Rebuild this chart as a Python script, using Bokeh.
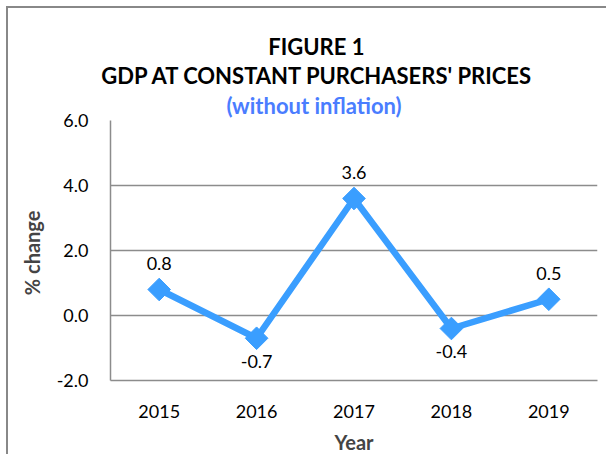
from bokeh.plotting import figure
from bokeh.models import Title, ColumnDataSource, SingleIntervalTicker, CustomJSTickFormatter
from bokeh.core.properties import value
from bokeh.embed import file_html
from bokeh.resources import INLINE

years = ["2015", "2016", "2017", "2018", "2019"]
gdp_change = [0.8, -0.7, 3.6, -0.4, 0.5]
title_line1 = "FIGURE 1"
title_line2 = "GDP AT CONSTANT PURCHASERS' PRICES"
title_line3 = "(without inflation)"

FONT = "Lato"
LINE_COLOR = "#3A9EFF"
GRID = "#8C8C8C"

labels = [f"{v:.1f}" for v in gdp_change]
offsets = [-26 if v >= 0 else 23 for v in gdp_change]
src = ColumnDataSource(dict(x=years, y=gdp_change, lab=labels, off=offsets))

W, H = 600, 448
MB_LEFT = 102
p = figure(width=W, height=H, x_range=years, y_range=(-2, 6),
           output_backend="svg", toolbar_location=None,
           min_border_left=MB_LEFT, min_border_right=11, min_border_bottom=76,
           min_border_top=10)
p.title = None

# Titles are centred over the whole chart (canvas x ~307), not over the plot area.
TITLE_SIZE = 22
CENTER_X = 307
est_width = {title_line1: 4.29, title_line2: 19.48, title_line3: 8.10}  # in em, Lato Bold
for txt, col, so in [(title_line3, "#4A7DFF", 3), (title_line2, "black", 0),
                     (title_line1, "black", 0)]:
    left = CENTER_X - est_width[txt] * TITLE_SIZE / 2
    t = Title(text=txt, align="left", offset=left - MB_LEFT, text_color=col,
              text_font=FONT, text_font_size=f"{TITLE_SIZE}px",
              text_font_style="bold", standoff=so)
    p.add_layout(t, "above")
# blank spacer above the title block
p.add_layout(Title(text=" ", text_font=FONT, text_font_size="14px", standoff=3), "above")

p.line("x", "y", source=src, line_color=LINE_COLOR, line_width=6.5)
p.scatter("x", "y", source=src, marker="square", angle=0.785398, size=16,
          fill_color=LINE_COLOR, line_color=LINE_COLOR)
p.text("x", "y", text="lab", source=src, y_offset="off", text_align="center",
       text_baseline="middle", text_font=value(FONT), text_font_size="18px",
       text_color="black")

p.yaxis.ticker = SingleIntervalTicker(interval=2)
p.yaxis.formatter = CustomJSTickFormatter(code="return tick.toFixed(1);")
p.yaxis.axis_label = "%  change"
p.xaxis.axis_label = "Year"
for ax in (p.xaxis, p.yaxis):
    ax.axis_label_text_font = FONT
    ax.axis_label_text_font_style = "bold"
    ax.axis_label_text_font_size = "20px"
    ax.major_label_text_font = FONT
    ax.major_label_text_font_size = "18px"
    ax.major_label_text_color = "black"
    ax.major_tick_line_color = None
    ax.minor_tick_line_color = None
    ax.axis_line_color = GRID
    ax.axis_line_width = 1.5
p.xaxis.major_label_standoff = 18
p.yaxis.major_label_standoff = 16
p.xaxis.axis_label_standoff = 9
p.yaxis.axis_label_standoff = 10

p.xgrid.grid_line_color = None
p.ygrid.grid_line_color = GRID
p.ygrid.grid_line_width = 1.5
p.outline_line_color = None

p.styles = {"margin-left": "6px", "margin-top": "6px",
            "border-left": "2px solid #888888", "border-top": "2px solid #888888"}

open("out.html", "w").write(file_html(p, INLINE))
